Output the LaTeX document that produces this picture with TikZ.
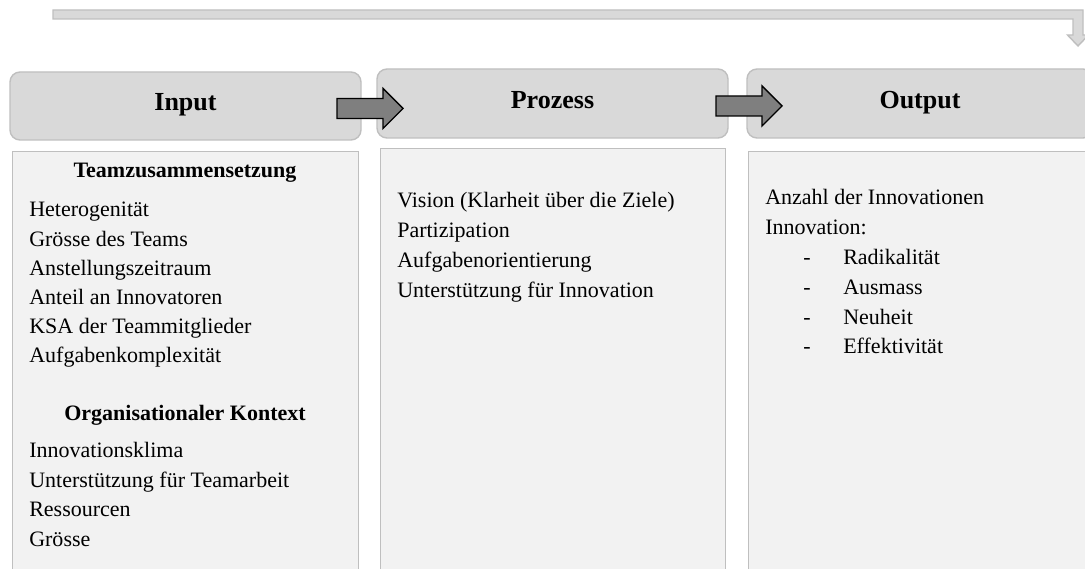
\documentclass[tikz,border=0pt]{standalone}
\usepackage{fontspec}
\setmainfont{Liberation Serif}

\definecolor{kopfgrau}{HTML}{D9D9D9}
\definecolor{rahmengrau}{HTML}{BFBFBF}
\definecolor{feldgrau}{HTML}{F2F2F2}
\definecolor{pfeilgrau}{HTML}{7F7F7F}

\def\px{0.025cm}
\tikzset{
  kopf/.style={draw=rahmengrau, fill=kopfgrau, line width=1pt, rounded corners=0.25cm,
    inner sep=0, text height=0.7em, text depth=0pt, font=\fontsize{18.5}{20}\selectfont\bfseries},
  feld/.style={draw=rahmengrau, fill=feldgrau, line width=1pt, inner sep=0, anchor=north west},
  zeile/.style={inner sep=0, anchor=base west, font=\fontsize{15.65}{18}\selectfont},
  titel/.style={inner sep=0, anchor=base, font=\fontsize{15.65}{18}\selectfont\bfseries},
  blockpfeil/.style={draw=black, fill=pfeilgrau, line width=1pt, line join=miter},
  balken/.style={draw=rahmengrau, fill=kopfgrau, line width=1pt}
}

\begin{document}
\begin{tikzpicture}[x=\px, y=-\px]
\clip (0,0) rectangle (1085,569);
%\draw[help lines] (0,0) grid (1085,569);
% Rueckkopplung oben
\filldraw[balken] (53,10) -- (1083,10) -- (1083,35) -- (1088.5,35) -- (1078,46) -- (1067.5,35)
  -- (1073,35) -- (1073,19) -- (53,19) -- cycle;
% Kopfzeilen
\node[kopf, minimum width={351*\px}, minimum height={68*\px}] (input) at (185.5,106) {Input};
\node[kopf, minimum width={351*\px}, minimum height={69*\px}] (prozess) at (552.5,103.5) {Prozess};
\node[kopf, minimum width={346*\px}, minimum height={69*\px}] (output) at (920,103.5) {Output};
% Felder
\node[feld, minimum width={346*\px}, minimum height={430*\px}] (inbox) at (12,151) {};
\node[feld, minimum width={345*\px}, minimum height={432*\px}] (probox) at (380,148) {};
\node[feld, minimum width={344*\px}, minimum height={430*\px}] (outbox) at (748,151) {};
% Pfeile
\foreach \ax/\ay [count=\i] in {337/108.5, 716/106}
  \filldraw[blockpfeil] (\ax,\ay) coordinate (pf\i) ++(0,-10) -- ++(46,0) -- ++(0,-10)
    -- ++(20,20) -- ++(-20,20) -- ++(0,-10) -- ++(-46,0) -- cycle;
% Input
\node[titel] (team) at (185,178) {Teamzusammensetzung};
\foreach \t [count=\i] in {Heterogenität, Grösse des Teams, Anstellungszeitraum,
    Anteil an Innovatoren, KSA der Teammitglieder, Aufgabenkomplexität}
  \node[zeile] (tz\i) at (29,{217+(\i-1)*29.2}) {\t};
\node[titel] (orga) at (185,421) {Organisationaler Kontext};
\foreach \t [count=\i] in {Innovationsklima, Unterstützung für Teamarbeit, Ressourcen, Grösse}
  \node[zeile] (ok\i) at (29,{458+(\i-1)*29.5}) {\t};
% Prozess
\foreach \t [count=\i] in {Vision (Klarheit über die Ziele), Partizipation,
    Aufgabenorientierung, Unterstützung für Innovation}
  \node[zeile] (pz\i) at (397,{208+(\i-1)*30}) {\t};
% Output
\node[zeile] (oz1) at (765,205) {Anzahl der Innovationen};
\node[zeile] (oz2) at (765,234.8) {Innovation:};
\foreach \t [count=\i] in {Radikalität, Ausmass, Neuheit, Effektivität}{
  \node[zeile] (st\i) at (803,{264.6+(\i-1)*29.8}) {-};
  \node[zeile] (om\i) at (843,{264.6+(\i-1)*29.8}) {\t};
}
\end{tikzpicture}
\end{document}
